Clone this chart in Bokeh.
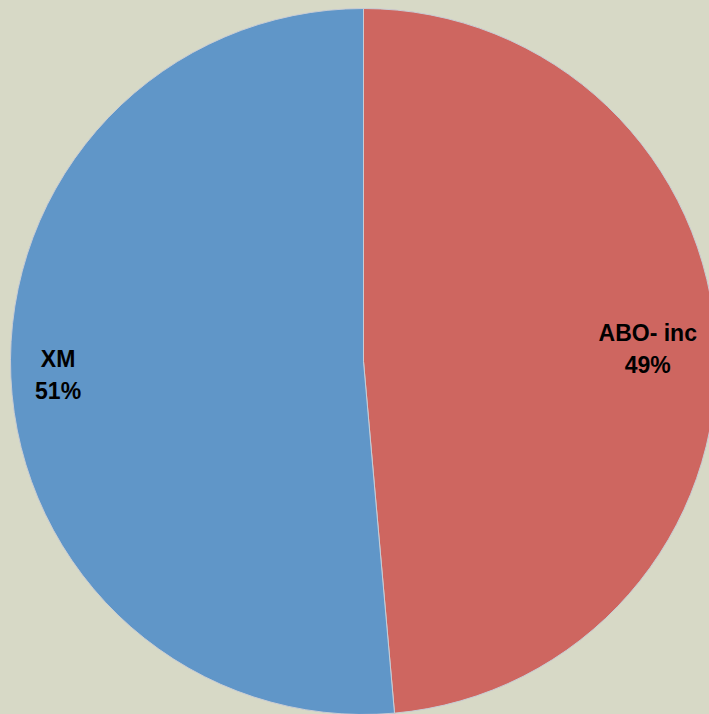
import numpy as np
from bokeh.plotting import figure
from bokeh.models import Range1d, ColumnDataSource
from bokeh.core.properties import value
from bokeh.embed import file_html
from bokeh.resources import INLINE

# data
categories = ["ABO- inc", "XM"]
shares = [48.6, 51.4]
colors = ["#CE6660", "#6096C8"]

BG = "#D7D9C6"
W, H = 709, 714
cx, cy, R = 363, 353, 353
label_r = [0.806, 0.866]

fr = np.array(shares) / sum(shares)
cum = np.concatenate([[0], np.cumsum(fr)]) * 2 * np.pi
end = np.pi / 2 - cum[:-1]
start = np.pi / 2 - cum[1:]
mid = (start + end) / 2
lx = cx + np.array(label_r) * R * np.cos(mid)
ly = cy + np.array(label_r) * R * np.sin(mid)
pct = [f"{round(s)}%" for s in shares]

src = ColumnDataSource(dict(start=start, end=end, color=colors,
                            lx=lx, ly=ly, name=categories, pct=pct))

p = figure(width=W, height=H, output_backend="svg", toolbar_location=None,
           x_range=Range1d(0, W), y_range=Range1d(0, H), min_border=0,
           background_fill_color=BG, border_fill_color=BG)
p.axis.visible = False
p.grid.visible = False
p.outline_line_color = None

p.wedge(x=cx, y=cy, radius=R, start_angle="start", end_angle="end",
        fill_color="color", line_color="#C8CCD4", line_width=1, source=src)

for col, off in (("name", -16), ("pct", 16)):
    p.text(x="lx", y="ly", text=col, source=src, y_offset=off,
           text_font=value("Liberation Sans"), text_font_style="bold",
           text_font_size="23px", text_align="center", text_baseline="middle",
           text_color="#000000")

html = file_html(p, INLINE)
html = html.replace("<head>", "<head><style>body{background:%s;}</style>" % BG, 1)
open("out.html", "w").write(html)
